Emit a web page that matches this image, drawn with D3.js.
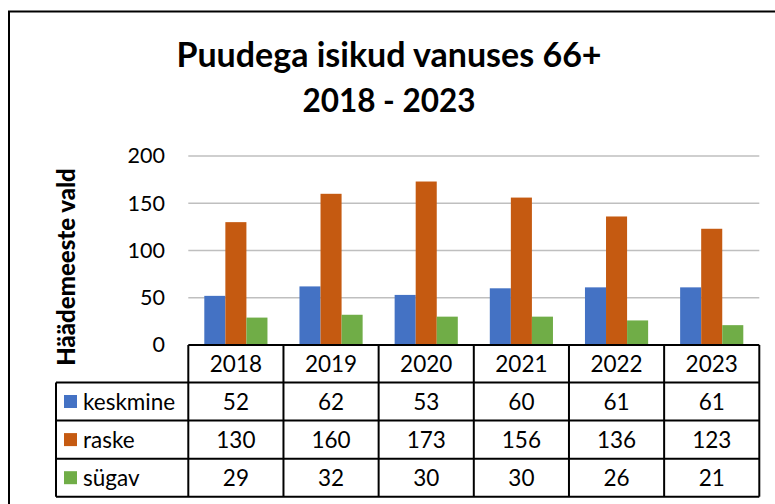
<!DOCTYPE html>
<html>
<head>
<meta charset="utf-8">
<script src="https://cdn.jsdelivr.net/npm/d3@7"></script>
<style>
  body { margin: 0; background: #fff; }
  text { font-family: Lato, Carlito, Calibri, sans-serif; fill: #000; }
</style>
</head>
<body>
<div id="chart"></div>
<script>
// data
const years = ['2018', '2019', '2020', '2021', '2022', '2023'];
const seriesNames = ['keskmine', 'raske', 'sügav'];
const keskmine = [52, 62, 53, 60, 61, 61];
const raske = [130, 160, 173, 156, 136, 123];
const sugav = [29, 32, 30, 30, 26, 21];
const yTicks = [0, 50, 100, 150, 200];
const colors = ['#4472C4', '#C55A11', '#70AD47'];

const values = [keskmine, raske, sugav];

const W = 775, H = 504;
const svg = d3.select('#chart')
  .append('svg')
  .attr('width', W)
  .attr('height', H);

// chart border
svg.append('rect')
  .attr('x', 9).attr('y', 11.5)
  .attr('width', W + 20).attr('height', H + 20)
  .attr('fill', 'none')
  .attr('stroke', '#000')
  .attr('stroke-width', 2);

// title
const title = svg.append('text')
  .attr('text-anchor', 'middle')
  .style('font-weight', 'bold');
title.append('tspan').attr('x', 389).attr('y', 67).style('font-size', '34px').text('Puudega isikud vanuses 66+');
title.append('tspan').attr('x', 389).attr('y', 112).style('font-size', '31.5px').text('2018 - 2023');

const left = 188.3, right = 759.3;
const x = d3.scaleBand().domain(years).range([left, right]).padding(0);
const bw = x.bandwidth();
const x1 = d3.scaleBand().domain(seriesNames).range([16, bw - 16]).padding(0);
const y = d3.scaleLinear().domain([0, 200]).range([345, 156]);

// gridlines
svg.append('g')
  .selectAll('line')
  .data(yTicks.slice(1))
  .enter()
  .append('line')
  .attr('x1', left).attr('x2', right)
  .attr('y1', d => y(d)).attr('y2', d => y(d))
  .attr('stroke', '#bfbfbf')
  .attr('stroke-width', 1.5);

// y axis labels
const yAxis = svg.append('g')
  .attr('transform', 'translate(165,0)')
  .call(d3.axisLeft(y).tickValues(yTicks).tickSize(0).tickPadding(0));
yAxis.select('.domain').remove();
yAxis.selectAll('text')
  .style('font-family', 'Lato, Carlito, Calibri, sans-serif')
  .style('font-size', '21.5px')
  .attr('fill', '#000');

// y axis title
svg.append('text')
  .attr('transform', 'translate(75,267) rotate(-90)')
  .attr('text-anchor', 'middle')
  .style('font-weight', '900')
  .style('font-size', '24px')
  .text('Häädemeeste vald');

// bars
const groups = svg.append('g')
  .selectAll('g')
  .data(years)
  .enter()
  .append('g')
  .attr('transform', d => `translate(${x(d)},0)`);

groups.selectAll('rect')
  .data((d, i) => seriesNames.map((s, j) => ({ s, j, v: values[j][i] })))
  .enter()
  .append('rect')
  .attr('x', d => x1(d.s))
  .attr('width', x1.bandwidth())
  .attr('y', d => y(d.v))
  .attr('height', d => y(0) - y(d.v))
  .attr('fill', d => colors[d.j]);

// data table
const rowTop = [345, 382.5, 420.5, 458.7];
const rowBottom = 496.7;
const legLeft = 56;
const table = svg.append('g');
const line = (x1_, y1_, x2_, y2_) => table.append('line')
  .attr('x1', x1_).attr('y1', y1_).attr('x2', x2_).attr('y2', y2_)
  .attr('stroke', '#000').attr('stroke-width', 2);

line(left, 345, right, 345);
rowTop.slice(1).forEach(r => line(legLeft, r, right, r));
line(legLeft, rowBottom, right, rowBottom);
line(legLeft, rowTop[1], legLeft, rowBottom);
years.forEach(d => line(x(d), 345, x(d), rowBottom));
line(right, 345, right, rowBottom);

const cellCenter = i => (rowTop[i] + (i < 3 ? rowTop[i + 1] : rowBottom)) / 2;
const fs = '22.5px';

table.selectAll('text.year')
  .data(years)
  .enter()
  .append('text')
  .attr('class', 'year')
  .attr('x', d => x(d) + bw / 2)
  .attr('y', cellCenter(0))
  .attr('dy', '0.36em')
  .attr('text-anchor', 'middle')
  .style('font-size', fs)
  .text(d => d);

seriesNames.forEach((s, j) => {
  const cy = cellCenter(j + 1);
  table.append('rect')
    .attr('x', 64).attr('y', cy - 6.5)
    .attr('width', 13).attr('height', 13)
    .attr('fill', colors[j]);
  table.append('text')
    .attr('x', 83).attr('y', cy)
    .attr('dy', '0.36em')
    .style('font-size', fs)
    .text(s);
  table.selectAll('text.v' + j)
    .data(values[j])
    .enter()
    .append('text')
    .attr('class', 'v' + j)
    .attr('x', (d, i) => x(years[i]) + bw / 2)
    .attr('y', cy)
    .attr('dy', '0.36em')
    .attr('text-anchor', 'middle')
    .style('font-size', fs)
    .text(d => d);
});
</script>
</body>
</html>
